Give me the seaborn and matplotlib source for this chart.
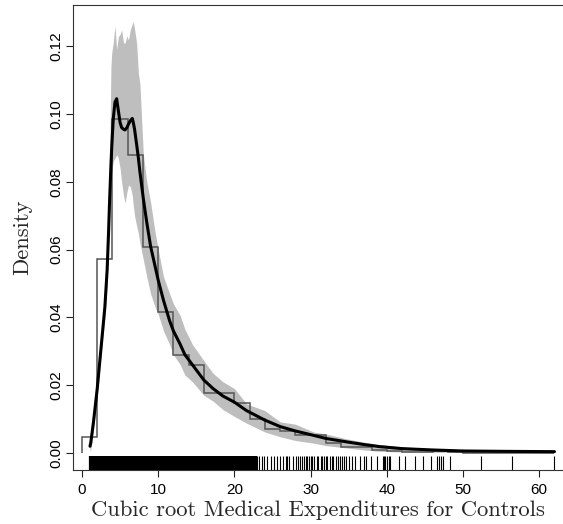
import numpy as np
import pandas as pd
import matplotlib
matplotlib.use("Agg")
import matplotlib.pyplot as plt
import seaborn as sns

# ---------------- data ----------------
hist_edges = [0, 2, 4, 6, 8, 10, 12, 14, 16, 18, 20, 22, 24, 26, 28, 30, 32,
              34, 36, 38, 40, 42, 44, 46, 48, 50, 52, 54, 56, 58, 60, 62]
hist_heights = [0.0046, 0.0572, 0.0984, 0.0879, 0.0609, 0.0415, 0.0289, 0.0260,
                0.0178, 0.0178, 0.0148, 0.0100, 0.0072, 0.0066, 0.0052, 0.0052,
                0.0029, 0.0019, 0.0019, 0.0009, 0.0007, 0.0003, 0.0003, 0.0005,
                0.0002, 0.0000, 0.0001, 0.0000, 0.0001, 0.0000, 0.0001]

grid_x = [1.05, 1.15, 1.5, 2.0, 2.5, 3.0, 3.3, 3.5, 3.6, 3.7, 3.8, 3.9, 4.1, 4.33,
          4.55, 4.77, 5.0, 5.2, 5.45, 5.65, 5.9, 6.1, 6.35, 6.6, 6.73, 6.9, 7.17,
          7.4, 7.6, 8.05, 8.5, 9.0, 9.6, 10.0, 10.7, 11.5, 12.0, 12.9, 13.5, 14.5,
          16.0, 17.2, 18.5, 20.0, 21.6, 24.0, 26.0, 28.0, 30.4, 32.0, 34.7, 37.0,
          39.0, 42.0, 46.0, 50.0, 55.0, 62.0]
dens_mean = [0.0020, 0.0030, 0.0090, 0.0190, 0.0310, 0.0430, 0.0540, 0.0660, 0.0730,
             0.0790, 0.0850, 0.0900, 0.0985, 0.1035, 0.1045, 0.1010, 0.0975, 0.0960,
             0.0955, 0.0953, 0.0960, 0.0970, 0.0980, 0.0987, 0.0975, 0.0955, 0.0910,
             0.0870, 0.0830, 0.0750, 0.0680, 0.0610, 0.0550, 0.0510, 0.0450, 0.0390,
             0.0360, 0.0320, 0.0290, 0.0260, 0.0215, 0.0190, 0.0168, 0.0150, 0.0125,
             0.0097, 0.0078, 0.0065, 0.0052, 0.0043, 0.0033, 0.0025, 0.0019, 0.0013,
             0.0009, 0.0006, 0.0005, 0.0004]
dens_upper = [0.0030, 0.0050, 0.0110, 0.0210, 0.0330, 0.0460, 0.0580, 0.0720, 0.0830,
              0.0980, 0.1140, 0.1180, 0.1210, 0.1260, 0.1190, 0.1228, 0.1235, 0.1248,
              0.1210, 0.1209, 0.1230, 0.1218, 0.1250, 0.1265, 0.1273, 0.1250, 0.1209,
              0.1120, 0.1090, 0.0880, 0.0800, 0.0740, 0.0650, 0.0600, 0.0520, 0.0470,
              0.0440, 0.0405, 0.0365, 0.0320, 0.0272, 0.0235, 0.0210, 0.0190, 0.0145,
              0.0125, 0.0092, 0.0085, 0.0062, 0.0056, 0.0042, 0.0032, 0.0025, 0.0018,
              0.0012, 0.0009, 0.0007, 0.0006]
dens_lower = [0.0005, 0.0010, 0.0070, 0.0170, 0.0290, 0.0400, 0.0500, 0.0620, 0.0680,
              0.0740, 0.0790, 0.0830, 0.0860, 0.0870, 0.0880, 0.0870, 0.0840, 0.0800,
              0.0760, 0.0737, 0.0770, 0.0790, 0.0786, 0.0760, 0.0730, 0.0700, 0.0670,
              0.0648, 0.0620, 0.0570, 0.0520, 0.0470, 0.0430, 0.0410, 0.0360, 0.0320,
              0.0290, 0.0260, 0.0230, 0.0210, 0.0170, 0.0153, 0.0128, 0.0108, 0.0088,
              0.0062, 0.0048, 0.0037, 0.0029, 0.0022, 0.0015, 0.0009, 0.0005, 0.0003,
              0.0002, 0.0002, 0.0002, 0.0002]

# rug: the dense, visually solid band of observations ...
rug_dense = [
    1.02, 1.30, 1.44, 1.58, 1.71, 1.86, 1.99, 2.13, 2.27, 2.41, 2.55, 2.68, 2.83,
    2.97, 3.10, 3.24, 3.39, 3.52, 3.66, 3.80, 3.94, 4.08, 4.21, 4.36, 4.49, 4.63,
    4.77, 4.91, 5.05, 5.19, 5.33, 5.46, 5.61, 5.74, 5.88, 6.02, 6.16, 6.30, 6.44,
    6.58, 6.71, 6.86, 6.99, 7.13, 7.27, 7.41, 7.55, 7.69, 7.83, 7.96, 8.11, 8.24,
    8.38, 8.52, 8.66, 8.80, 8.94, 9.08, 9.21, 9.36, 9.49, 9.63, 9.77, 9.91, 10.05,
    10.19, 10.33, 10.46, 10.61, 10.74, 10.88, 11.02, 11.16, 11.30, 11.44, 11.58,
    11.71, 11.86, 11.99, 12.13, 12.27, 12.41, 12.55, 12.69, 12.83, 12.96, 13.11,
    13.24, 13.38, 13.52, 13.66, 13.80, 13.94, 14.08, 14.21, 14.36, 14.49, 14.63,
    14.77, 14.91, 15.05, 15.19, 15.33, 15.46, 15.61, 15.74, 15.88, 16.02, 16.16,
    16.30, 16.44, 16.58, 16.71, 16.86, 16.99, 17.13, 17.27, 17.41, 17.55, 17.69,
    17.83, 17.96, 18.11, 18.24, 18.38, 18.52, 18.66, 18.80, 18.94, 19.08, 19.21,
    19.36, 19.49, 19.63, 19.77, 19.91, 20.05, 20.19, 20.33, 20.46, 20.61, 20.74,
    20.88, 21.02, 21.16, 21.30, 21.44, 21.58, 21.71, 21.86, 21.99, 22.13, 22.27,
    22.41, 22.55, 22.69, 22.83]
# ... and the sparser tail observations
rug_sparse = [
    23.00, 23.27, 23.58, 23.88, 24.23, 24.75, 25.20, 25.63, 25.98, 26.42, 26.77,
    26.94, 27.20, 27.73, 28.08, 28.39, 28.60, 28.90, 29.10, 29.35, 29.50, 29.80,
    30.00, 30.20, 30.50, 30.80, 31.00, 31.30, 31.45, 31.70, 32.00, 32.20, 32.50,
    32.80, 33.00, 33.30, 33.60, 33.90, 34.10, 34.40, 34.70, 35.10, 35.40, 35.80,
    36.50, 37.00, 37.30, 37.90, 38.76, 39.46, 39.63, 39.80, 40.07, 40.24, 40.42,
    41.64, 42.43, 43.74, 44.79, 45.76, 46.63, 46.89, 47.07, 47.42, 48.29, 52.36,
    56.39, 61.94]

x_ticks = [0, 10, 20, 30, 40, 50, 60]
y_ticks = [0.00, 0.02, 0.04, 0.06, 0.08, 0.10, 0.12]
x_label = "Cubic root Medical Expenditures for Controls"
y_label = "Density"

# ---------------- styling ----------------
sns.set_theme(style="ticks")
plt.rcParams["font.family"] = ["Liberation Sans", "DejaVu Sans"]
plt.rcParams["axes.edgecolor"] = "#333333"
plt.rcParams["xtick.color"] = "#222222"
plt.rcParams["ytick.color"] = "#222222"
plt.rcParams["xtick.labelcolor"] = "black"
plt.rcParams["ytick.labelcolor"] = "black"

fig = plt.figure(figsize=(5.63, 5.24), dpi=100)
W, H = 563, 524
ax = fig.add_axes([73 / W, 54 / H, (W - 73) / W, 465 / H])

df = pd.DataFrame({"x": grid_x, "mean": dens_mean,
                   "upper": dens_upper, "lower": dens_lower})

# posterior band
ax.fill_between(df["x"], df["lower"], df["upper"], color="#BEBEBE",
                linewidth=0, zorder=1)
# histogram outline
ax.stairs(hist_heights, hist_edges, baseline=0, fill=False,
          color="#555555", linewidth=1.1, zorder=2)
# posterior mean density
sns.lineplot(data=df, x="x", y="mean", color="black", linewidth=2.2,
             ax=ax, zorder=3)
# rug
sns.rugplot(x=rug_dense, height=0.03, color="black", linewidth=1.6,
            ax=ax, expand_margins=False, zorder=3)
sns.rugplot(x=rug_sparse, height=0.03, color="black", linewidth=0.8,
            ax=ax, expand_margins=False, zorder=3)

ax.set_xlim(-1.18, 63.12)
ax.set_ylim(-0.00501, 0.13215)
ax.set_xticks(x_ticks)
ax.set_xticklabels([str(t) for t in x_ticks])
ax.set_yticks(y_ticks)
ax.set_yticklabels([f"{t:.2f}" for t in y_ticks], rotation=90, va="center")

ax.tick_params(axis="both", which="major", length=5, width=0.8,
               labelsize=11, direction="out")
ax.tick_params(axis="x", pad=4.5)
ax.tick_params(axis="y", pad=2)

for s in ["left", "top", "bottom"]:
    ax.spines[s].set_linewidth(0.8)
ax.spines["right"].set_visible(False)

ax.set_xlabel(x_label, family="cmr10", fontsize=16.3, labelpad=2)
ax.set_ylabel(y_label, family="cmr10", fontsize=16.3, labelpad=12)

fig.savefig("out.png", dpi=100)
